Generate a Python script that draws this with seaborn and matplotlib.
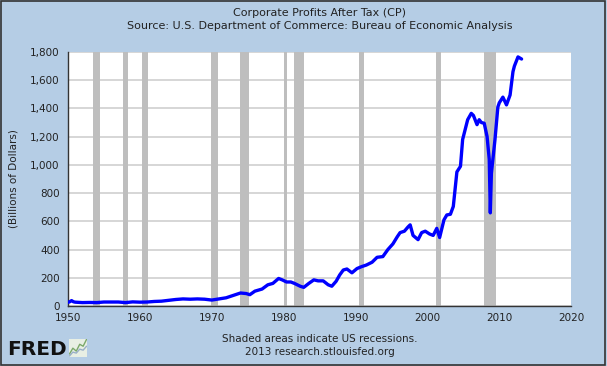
"""FRED style chart: Corporate Profits After Tax (CP)."""

import matplotlib
matplotlib.use("Agg")
import matplotlib.pyplot as plt
from matplotlib.patches import Rectangle
import pandas as pd
import seaborn as sns

# approximate quarterly-ish readings (billions of dollars)
years = [
    1950.0, 1950.25, 1950.5, 1950.75, 1951, 1952, 1953, 1954, 1955, 1956,
    1957, 1958, 1959, 1960, 1961, 1962, 1963, 1964, 1965, 1966,
    1967, 1968, 1969, 1970, 1971, 1972, 1973, 1974, 1974.8, 1975.3,
    1976, 1977, 1977.8, 1978.5, 1979.3, 1979.8, 1980.4, 1981, 1981.5, 1982.3,
    1982.8, 1983.5, 1984.2, 1984.8, 1985.5, 1986.2, 1986.7, 1987.3, 1987.8, 1988.3,
    1988.8, 1989.5, 1990.2, 1990.8, 1991.5, 1992.3, 1993, 1993.8, 1994.5, 1995.2,
    1995.8, 1996.2, 1996.8, 1997.3, 1997.6, 1998.0, 1998.7, 1999.2, 1999.7, 2000.3,
    2000.8, 2001.3, 2001.7, 2002.3, 2002.7, 2003.2, 2003.6, 2004.1, 2004.6, 2004.9,
    2005.6, 2006.1, 2006.4, 2006.9, 2007.2, 2007.5, 2007.9, 2008.3, 2008.6, 2008.75,
    2008.9, 2009.4, 2009.8, 2010.0, 2010.5, 2011.0, 2011.5, 2011.9, 2012.1, 2012.6,
    2013.1,
]
profits = [
    26, 30, 38, 30, 27, 24, 25, 24, 28, 28,
    28, 24, 29, 27, 28, 32, 34, 40, 46, 50,
    48, 50, 48, 42, 50, 58, 75, 92, 88, 80,
    105, 120, 150, 160, 195, 185, 170, 170, 160, 140,
    132, 160, 185, 178, 178, 150, 140, 175, 220, 255,
    262, 235, 265, 278, 290, 310, 345, 350, 400, 440,
    490, 520, 530, 560, 575, 500, 470, 520, 530, 510,
    500, 550, 485, 610, 645, 650, 705, 950, 990, 1180,
    1320, 1365, 1350, 1285, 1320, 1300, 1295, 1200, 1040, 660,
    940, 1180, 1410, 1440, 1480, 1425, 1495, 1660, 1700, 1765,
    1750,
]

# NBER recession periods (start, end)
rec_start = [1953.5, 1957.6, 1960.3, 1969.9, 1973.9, 1980.0, 1981.5, 1990.5, 2001.2, 2007.9]
rec_end = [1954.4, 1958.3, 1961.1, 1970.9, 1975.2, 1980.5, 1982.9, 1991.2, 2001.9, 2009.5]

y_ticks = list(range(0, 1801, 200))
x_ticks = list(range(1950, 2021, 10))

BG = "#b5cde5"

sns.set_style("white")
plt.rcParams["font.family"] = ["DejaVu Sans"]

df = pd.DataFrame({"year": years, "value": profits})

fig = plt.figure(figsize=(6.07, 3.66), dpi=100, facecolor=BG)
ax = fig.add_axes([0.112, 0.164, 0.829, 0.694])
ax.set_facecolor("white")

for s, e in zip(rec_start, rec_end):
    ax.axvspan(s, e, color="#bebebe", lw=0, zorder=1)

for v in y_ticks:
    ax.axhline(v, color="#cfcfcf", lw=1.2, zorder=0.5)

sns.lineplot(data=df, x="year", y="value", ax=ax, color="#0000ff", lw=2.4, zorder=3)

ax.set_xlim(1950, 2020)
ax.set_ylim(0, 1800)
ax.set_xticks(x_ticks)
ax.set_yticks(y_ticks)
ax.set_yticklabels([f"{v:,}" for v in y_ticks])
ax.tick_params(axis="x", direction="in", length=4, width=0.8, labelsize=7.5, pad=5, colors="#222222")
ax.tick_params(axis="y", direction="out", length=4, width=0.8, labelsize=7.5, pad=2, colors="#222222")
ax.tick_params(axis="x", top=False)
ax.set_xlabel("")
ax.set_ylabel("(Billions of Dollars)", fontsize=7.5, color="#222222", labelpad=8)
for side in ["left", "bottom"]:
    ax.spines[side].set_color("#333333")
    ax.spines[side].set_linewidth(1.0)
for side in ["top", "right"]:
    ax.spines[side].set_visible(False)

cx = 0.527
fig.text(cx, 0.965, "Corporate Profits After Tax (CP)", ha="center", va="center",
         fontsize=8, color="#222222")
fig.text(cx, 0.928, "Source: U.S. Department of Commerce: Bureau of Economic Analysis",
         ha="center", va="center", fontsize=8, color="#222222")
fig.text(cx, 0.073, "Shaded areas indicate US recessions.", ha="center", va="center",
         fontsize=7.5, color="#222222")
fig.text(cx, 0.037, "2013 research.stlouisfed.org", ha="center", va="center",
         fontsize=7.5, color="#222222")

# FRED logo
fig.text(0.012, 0.045, "FRED", ha="left", va="center", fontsize=14.5,
         fontweight="heavy", color="#111111")
icon = fig.add_axes([0.113, 0.025, 0.031, 0.05])
icon.set_facecolor("#e8efe4")
icon.plot([0, 1, 2, 3, 4, 5], [0.2, 0.5, 0.35, 0.7, 0.6, 0.95], color="#7aa86a", lw=1)
icon.plot([0, 1, 2, 3, 4, 5], [0.1, 0.3, 0.25, 0.45, 0.4, 0.6], color="#9ab0c8", lw=1)
icon.set_xticks([])
icon.set_yticks([])
for sp in icon.spines.values():
    sp.set_visible(False)

fig.patches.append(Rectangle((0.002, 0.003), 0.995, 0.993, transform=fig.transFigure,
                             fill=False, ec="#333333", lw=1.2))

fig.savefig("out.png", dpi=100, facecolor=BG)
